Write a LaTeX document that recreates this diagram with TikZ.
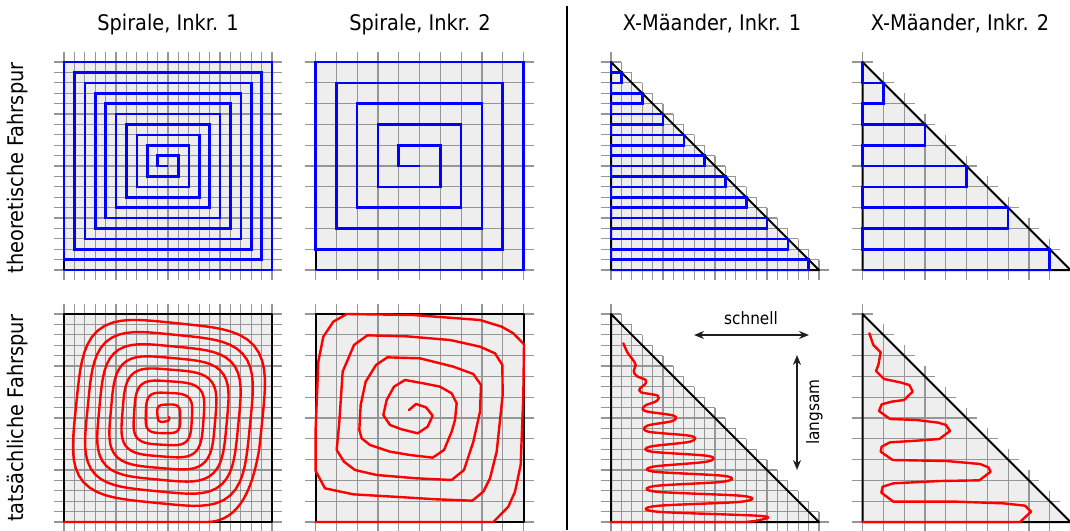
\documentclass[tikz,border=0pt]{standalone}
\usepackage{fontspec}
\setmainfont{DejaVu Sans}[FakeStretch=0.9]
\usetikzlibrary{arrows.meta}
\definecolor{panelfill}{RGB}{238,238,238}
\definecolor{gridcol}{RGB}{150,150,150}
\definecolor{pathblue}{RGB}{0,0,255}
\definecolor{pathred}{RGB}{255,0,0}
\definecolor{arrowcol}{RGB}{30,30,30}
\newcommand\SqGrid[2]{%
  \fill[panelfill] (0,0) rectangle (#1,#1);
  \foreach \k in {0,...,#1} {
    \draw[gridline] (\k,-#2) -- (\k,#1+#2);
    \draw[gridline] (-#2,\k) -- (#1+#2,\k);
  }
  \draw[border] (0,0) rectangle (#1,#1);
}
\newcommand\TriGrid[2]{%
  \fill[panelfill] (0,0) -- (0,#1) -- (#1,0) -- cycle;
  \foreach \k in {0,...,#1} {
    \draw[gridline] (\k,-#2) -- (\k,#1-\k+#2);
    \draw[gridline] (-#2,\k) -- (#1-\k+#2,\k);
  }
  \draw[border] (0,0) -- (0,#1) -- (#1,0) -- cycle;
}
\begin{document}
\begin{tikzpicture}[x=1pt,y=-1pt,
  gridline/.style={draw=gridcol, line width=1.2pt},
  border/.style={draw=black, line width=2pt, line join=round},
  bluepath/.style={draw=pathblue, line width=2.6pt, line join=miter},
  redpath/.style={draw=pathred, line width=2.4pt, line join=round, line cap=round},
  title/.style={font=\fontsize{21.5}{25}\selectfont, anchor=base, inner sep=0pt},
  sidelabel/.style={font=\fontsize{21.5}{25}\selectfont, rotate=90, inner sep=0pt},
  speedlabel/.style={font=\fontsize{17}{20}\selectfont, inner sep=0pt, anchor=base},
  speedarrow/.style={draw=arrowcol, line width=1.5pt, arrows={Stealth[length=10pt,width=8pt]-Stealth[length=10pt,width=8pt]}},
  separator/.style={draw=black, line width=1.3pt},
  declare function={sqf(\a)=1/(pow(cos(\a)*cos(\a),2)+pow(sin(\a)*sin(\a),2))^(1/4);
                    rr(\t)=0.3+9.0*(\t/2880);}
]
\useasboundingbox (0,0) rectangle (1070,530);

% titles
\node[title] (t1) at (168,30) {Spirale, Inkr. 1};
\node[title] (t2) at (420,30) {Spirale, Inkr. 2};
\node[title] (t3) at (712,30) {X-Mäander, Inkr. 1};
\node[title] (t4) at (960,30) {X-Mäander, Inkr. 2};
\node[sidelabel] (l1) at (18,168) {theoretische Fahrspur};
\node[sidelabel] (l2) at (18,418) {tatsächliche Fahrspur};

% separator
\coordinate (sepTop) at (567,6);
\coordinate (sepBot) at (567,530);
\draw[separator] (sepTop) -- (sepBot);

% ---- top row ----
\begin{scope}[shift={(64,270)}, x=10.4pt, y=10.4pt]
  \SqGrid{20}{1}
  \draw[bluepath] (10,10) -- (9,10) -- (9,11) -- (11,11) -- (11,9) -- (8,9) -- (8,12) -- (12,12) -- (12,8) -- (7,8) -- (7,13) -- (13,13) -- (13,7) -- (6,7) -- (6,14) -- (14,14) -- (14,6) -- (5,6) -- (5,15) -- (15,15) -- (15,5) -- (4,5) -- (4,16) -- (16,16) -- (16,4) -- (3,4) -- (3,17) -- (17,17) -- (17,3) -- (2,3) -- (2,18) -- (18,18) -- (18,2) -- (1,2) -- (1,19) -- (19,19) -- (19,1) -- (0,1) -- (0,20) -- (20,20) -- (20,0) -- (0,0);
\end{scope}

\begin{scope}[shift={(315.5,270)}, x=20.8pt, y=20.8pt]
  \SqGrid{10}{0.5}
  \draw[bluepath] (5,5) -- (4,5) -- (4,6) -- (6,6) -- (6,4) -- (3,4) -- (3,7) -- (7,7) -- (7,3) -- (2,3) -- (2,8) -- (8,8) -- (8,2) -- (1,2) -- (1,9) -- (9,9) -- (9,1) -- (0,1) -- (0,10) -- (10,10) -- (10,0) -- (0,0);
\end{scope}

\begin{scope}[shift={(611,270)}, x=10.4pt, y=10.4pt]
  \TriGrid{20}{1}
  \draw[bluepath] (0,20) -- (0,19) -- (1,19) -- (1,18) -- (0,18) -- (0,17) -- (3,17) -- (3,16) -- (0,16) -- (0,15) -- (5,15) -- (5,14) -- (0,14) -- (0,13) -- (7,13) -- (7,12) -- (0,12) -- (0,11) -- (9,11) -- (9,10) -- (0,10) -- (0,9) -- (11,9) -- (11,8) -- (0,8) -- (0,7) -- (13,7) -- (13,6) -- (0,6) -- (0,5) -- (15,5) -- (15,4) -- (0,4) -- (0,3) -- (17,3) -- (17,2) -- (0,2) -- (0,1) -- (19,1) -- (19,0) -- (0,0);
\end{scope}

\begin{scope}[shift={(862.5,270)}, x=20.8pt, y=20.8pt]
  \TriGrid{10}{0.5}
  \draw[bluepath] (0,10) -- (0,9) -- (1,9) -- (1,8) -- (0,8) -- (0,7) -- (3,7) -- (3,6) -- (0,6) -- (0,5) -- (5,5) -- (5,4) -- (0,4) -- (0,3) -- (7,3) -- (7,2) -- (0,2) -- (0,1) -- (9,1) -- (9,0) -- (0,0);
\end{scope}

% ---- bottom row ----
\begin{scope}[shift={(64,522)}, x=10.4pt, y=10.4pt]
  \SqGrid{20}{1}
  \draw[redpath] plot[domain=0:2880, samples=640]
    ({9.8+rr(\x)*cos(2860-\x)*sqf(2867-\x)}, {10.2+rr(\x)*sin(2860-\x)*sqf(2867-\x)})
    to[out=-100,in=0] (13.7,0) -- (0,0);
\end{scope}

\begin{scope}[shift={(315.5,522)}, x=20.8pt, y=20.8pt]
  \SqGrid{10}{0.5}
\end{scope}
\begin{scope}[shift={(300,295)}, scale=1/3]
  \draw[redpath] plot coordinates {(327,345) (348,327) (378,337) (398,362) (383,395) (353,415) (305,403) (270,390) (250,360) (260,315) (282,275) (315,255) (370,265) (420,275) (455,295) (470,325) (465,375) (455,410) (432,465) (398,488) (330,480) (270,470) (210,450) (185,430) (178,405) (182,330) (197,260) (228,210) (262,187) (360,190) (460,215) (520,237) (543,270) (540,350) (520,440) (492,525) (455,555) (350,550) (230,540) (165,525) (132,500) (110,465) (118,380) (128,230) (162,150) (202,121) (320,124) (450,135) (540,155) (585,175) (607,210) (608,300) (590,470) (570,550) (550,590) (517,617) (410,613) (280,605) (160,598) (75,580) (47,528) (47,400) (55,200) (70,125) (100,80) (140,57) (340,60) (540,75) (605,95) (640,115) (672,148) (670,300) (662,510) (645,590) (625,635) (580,681) (47,681)};
\end{scope}

\begin{scope}[shift={(611,522)}, x=10.4pt, y=10.4pt]
  \TriGrid{20}{1}
\end{scope}
\begin{scope}[shift={(595,295)}, scale=1/3]
  \draw[redpath] plot[smooth, tension=0.55] coordinates {(85,145) (97,172) (112,192) (122,210) (116,228) (125,243) (152,255) (150,268) (135,280) (138,292) (188,302) (185,318) (150,332) (150,348) (236,362) (232,378) (157,392) (160,410) (288,423) (285,440) (165,455) (170,470) (340,483) (335,500) (175,515) (178,530) (390,543) (385,560) (180,573) (183,590) (445,603) (440,620) (183,633) (186,650) (500,663) (490,676) (450,681)} -- (48,681);
\end{scope}

\begin{scope}[shift={(862.5,522)}, x=20.8pt, y=20.8pt]
  \TriGrid{10}{0.5}
\end{scope}
\begin{scope}[shift={(840,295)}, scale=1/3]
  \draw[redpath] plot coordinates {(88,115) (100,150) (122,172) (115,210) (108,228) (132,252) (180,262) (208,270) (218,290) (192,315) (155,320) (125,328) (117,348) (150,372) (230,375) (295,383) (318,390) (330,408) (298,432) (230,437) (150,442) (125,455) (122,470) (158,495) (320,498) (420,507) (445,517) (452,530) (418,556) (300,558) (160,565) (128,575) (124,593) (160,620) (350,620) (490,625) (555,632) (573,650) (540,681) (68,681)};
\end{scope}

% speed arrows
\coordinate (sL) at (694,335);
\coordinate (sR) at (809,335);
\draw[speedarrow] (sL) -- (sR);
\node[speedlabel] (schnell) at (751,324) {schnell};
\coordinate (lT) at (797,355);
\coordinate (lB) at (797,470);
\draw[speedarrow] (lT) -- (lB);
\node[speedlabel, rotate=90] (langsam) at (819,412) {langsam};
\end{tikzpicture}
\end{document}
